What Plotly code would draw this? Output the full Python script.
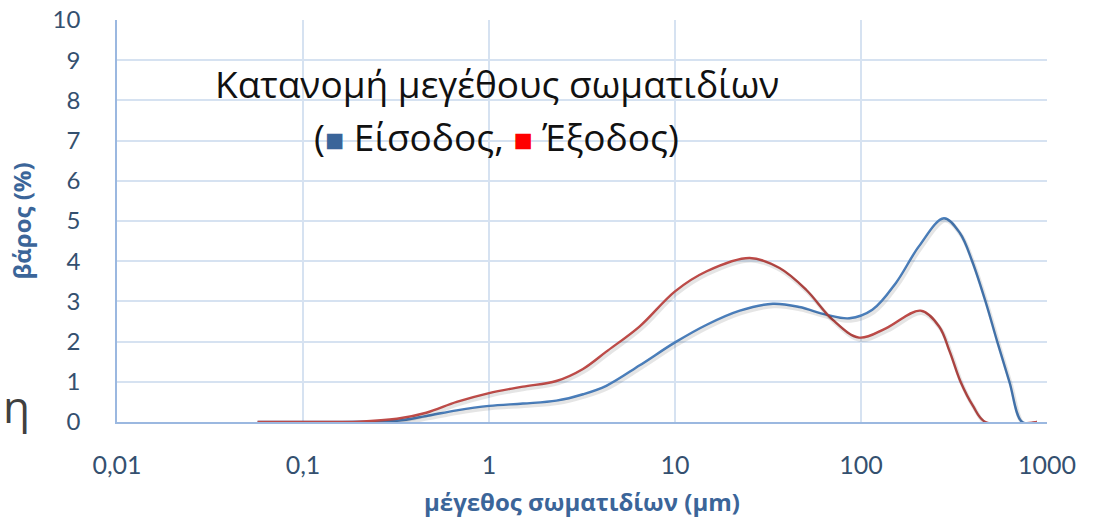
import plotly.graph_objects as go

# Particle size distribution (weight %), inlet vs outlet
size_in = [0.057, 0.1, 0.2, 0.32, 0.46, 0.67, 1.0, 1.52, 2.3, 3.2, 4.27, 6.46, 10, 14.8, 22.3,
           33.6, 46.7, 65, 86.6, 115, 154, 205, 279, 340, 396, 467, 540, 628, 735, 884]
weight_in = [0.0, 0.0, 0.005, 0.03, 0.15, 0.29, 0.4, 0.46, 0.53, 0.69, 0.9, 1.41, 1.98, 2.42, 2.77,
             2.94, 2.86, 2.67, 2.58, 2.79, 3.46, 4.375, 5.07, 4.7, 4.0, 3.0, 2.0, 1.0, 0.0, 0.0]

size_out = [0.057, 0.1, 0.2, 0.32, 0.46, 0.67, 1.0, 1.52, 2.3, 3.2, 4.27, 6.46, 10, 14.8, 25.2,
            36.5, 50.7, 70.5, 97.7, 136, 209, 263, 300, 343, 400, 467, 884]
weight_out = [0.0, 0.0, 0.01, 0.08, 0.23, 0.5, 0.72, 0.88, 1.02, 1.32, 1.75, 2.38, 3.25, 3.75, 4.08,
              3.83, 3.29, 2.54, 2.1, 2.33, 2.77, 2.375, 1.75, 1.0, 0.4, 0.0, 0.0]

x_tickvals = [0.01, 0.1, 1, 10, 100, 1000]
x_ticktext = ["0,01", "0,1", "1", "10", "100", "1000"]
y_tickvals = list(range(0, 11))

BLUE = "#4A7EBB"
RED = "#BE4B48"
GRID = "#D6E2F1"
AXIS = "#9BB8E0"
TICK_COLOR = "#34506F"
TITLE_COLOR = "#3B6599"
SMOOTH = 1.0

fig = go.Figure()

# soft drop shadow under each curve (same data on a slightly offset overlay axis)
for xs, ys in ((size_in, weight_in), (size_out, weight_out)):
    fig.add_trace(go.Scatter(
        x=xs, y=ys, mode="lines", xaxis="x2", yaxis="y2",
        line=dict(color="rgba(0,0,0,0.10)", width=4, shape="spline", smoothing=SMOOTH),
        hoverinfo="skip", showlegend=False,
    ))

fig.add_trace(go.Scatter(
    x=size_in, y=weight_in, mode="lines", name="Είσοδος",
    line=dict(color=BLUE, width=2.4, shape="spline", smoothing=SMOOTH),
))
fig.add_trace(go.Scatter(
    x=size_out, y=weight_out, mode="lines", name="Έξοδος",
    line=dict(color=RED, width=2.4, shape="spline", smoothing=SMOOTH),
))

fig.update_layout(
    width=1102, height=526,
    margin=dict(l=117, r=55, t=20, b=104),
    paper_bgcolor="white", plot_bgcolor="white",
    showlegend=False,
    font=dict(family="Open Sans, Noto Sans, sans-serif"),
    xaxis=dict(
        type="log", range=[-2, 3], automargin=False,
        tickvals=x_tickvals, ticktext=x_ticktext,
        showgrid=True, gridcolor=GRID, gridwidth=1.5,
        showline=True, linecolor=AXIS, linewidth=2,
        ticks="outside", ticklen=20, tickcolor="rgba(0,0,0,0)",
        tickfont=dict(family="Lato, Open Sans, sans-serif", size=25, color=TICK_COLOR),
        title=dict(text="<b>μέγεθος σωματιδίων (μm)</b>", standoff=16,
                   font=dict(family="Open Sans, sans-serif", size=24, color=TITLE_COLOR)),
        zeroline=False,
    ),
    yaxis=dict(
        range=[0, 10], tickvals=y_tickvals, automargin=False,
        showgrid=True, gridcolor=GRID, gridwidth=1.5,
        showline=True, linecolor=AXIS, linewidth=1.5,
        ticks="outside", ticklen=30, tickcolor="rgba(0,0,0,0)",
        tickfont=dict(family="Lato, Open Sans, sans-serif", size=24, color=TICK_COLOR),
        title=dict(text="<b>βάρος (%)</b>", standoff=14,
                   font=dict(family="Open Sans, sans-serif", size=24, color=TITLE_COLOR)),
        zeroline=False,
    ),
    xaxis2=dict(type="log", range=[-2.008, 2.992], overlaying="x", visible=False),
    yaxis2=dict(range=[0.06, 10.06], overlaying="y", visible=False),
)

fig.add_annotation(
    text="Κατανομή μεγέθους σωματιδίων",
    xref="paper", yref="paper", x=0.4086, y=0.841,
    xanchor="center", yanchor="middle", showarrow=False,
    font=dict(family="Open Sans, sans-serif", size=37, color="#111111"),
)
fig.add_annotation(
    text=("(<span style='color:#3A6499;font-size:32px'>■</span> Είσοδος, "
          "<span style='color:#FF0000;font-size:32px'>■</span> Έξοδος)"),
    xref="paper", yref="paper", x=0.4086, y=0.709,
    xanchor="center", yanchor="middle", showarrow=False,
    font=dict(family="Open Sans, sans-serif", size=37, color="#111111"),
)

# slide text visible at the left edge
fig.add_annotation(
    text="η", xref="paper", yref="paper", x=-115 / 930, y=0.04,
    xanchor="left", yanchor="middle", showarrow=False, borderpad=0,
    font=dict(family="Open Sans, sans-serif", size=44, color="#404040"),
)

fig.write_html("out.html")
